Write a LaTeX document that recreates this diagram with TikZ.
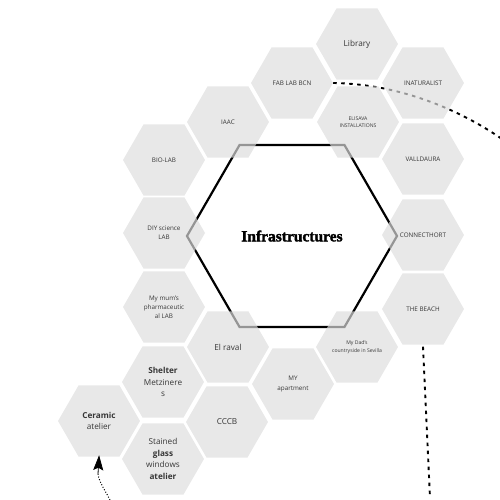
\documentclass[tikz,border=0pt]{standalone}
\usepackage{fontspec}
\setmainfont{Open Sans}
\newfontfamily\titlefont[FakeBold=2]{Liberation Serif}
\usetikzlibrary{shapes.geometric,arrows.meta,backgrounds}
\definecolor{hexgray}{RGB}{221,221,221}
\definecolor{labelgray}{RGB}{55,55,55}
\newcommand\fbig{\fontsize{8.2}{11.8}\selectfont}
\newcommand\fmid{\fontsize{6.3}{9.2}\selectfont}
\newcommand\fsmall{\fontsize{5.1}{7.6}\selectfont}
\begin{document}
\begin{tikzpicture}[x=1pt,y=-1pt,
  hex/.style={regular polygon,regular polygon sides=6,minimum size=82pt,inner sep=0pt,
    fill=hexgray,fill opacity=0.68,text opacity=1,text=labelgray,align=center,font=\fmid},
  bighex/.style={regular polygon,regular polygon sides=6,minimum size=210pt,inner sep=0pt,
    draw=black,line width=2.2pt,fill=white},
  dashline/.style={line width=1.9pt,dash pattern=on 3.5pt off 4.5pt,black},
  dotline/.style={line width=1pt,dash pattern=on 1pt off 1.8pt,black},
  tiparrow/.style={-{Stealth[length=15pt,width=10pt,inset=2.5pt]}}]
\useasboundingbox (0,0) rectangle (500,500);
% small hexagons
\node[hex,font=\fbig] (library) at (357,44) {Library};
\node[hex] (fablab) at (292,83) {FAB LAB BCN};
\node[hex] (inat) at (423,83) {INATURALIST};
\node[hex,font=\fsmall] (elisava) at (358,122) {ELISAVA\\INSTALLATIONS};
\node[hex] (valldaura) at (423,159) {VALLDAURA};
\node[hex] (connect) at (423,235) {CONNECTHORT};
\node[hex] (beach) at (423,309) {THE BEACH};
\node[hex] (iaac) at (228,122) {IAAC};
\node[hex] (biolab) at (164,160) {BIO-LAB};
\node[hex] (diy) at (164,233) {DIY science\\LAB};
\node[hex] (mum) at (164,307) {My mum's\\pharmaceutic\\al LAB};
\node[hex,font=\fbig] (raval) at (228,347) {El raval};
\node[hex,font=\fbig] (shelter) at (163,382) {\textbf{Shelter}\\Metzinere\\s};
\node[hex,font=\fbig] (ceramic) at (99,421) {\textbf{Ceramic}\\atelier};
\node[hex,font=\fbig] (stained) at (163,459) {Stained\\\textbf{glass}\\windows\\\textbf{atelier}};
\node[hex,font=\fbig] (cccb) at (227,422) {CCCB};
\node[hex] (apt) at (293,384) {MY\\apartment};
\node[hex,font=\fsmall] (dad) at (357,347) {My Dad's\\countryside in Sevilla};
% free ends
\coordinate (curveend) at (502,139);
\coordinate (beachend) at (430,498);
\coordinate (arrowstart) at (110,500);
\coordinate (tipbase) at (98,474);
\begin{scope}[on background layer]
\node[bighex] (infra) at (292,236) {\titlefont\bfseries\fontsize{15.5}{18}\selectfont Infrastructures};
\draw[dashline] (fablab.east) .. controls (400,84) and (460,110) .. (curveend);
\draw[dashline] ([yshift=-2pt]beach.south) -- (beachend);
\end{scope}
\draw[dotline] (arrowstart) .. controls (105,490) and (99,482) .. (tipbase);
\draw[line width=0.8pt,tiparrow,shorten >=-1.5pt] (tipbase) -- (ceramic.south);
\end{tikzpicture}
\end{document}
